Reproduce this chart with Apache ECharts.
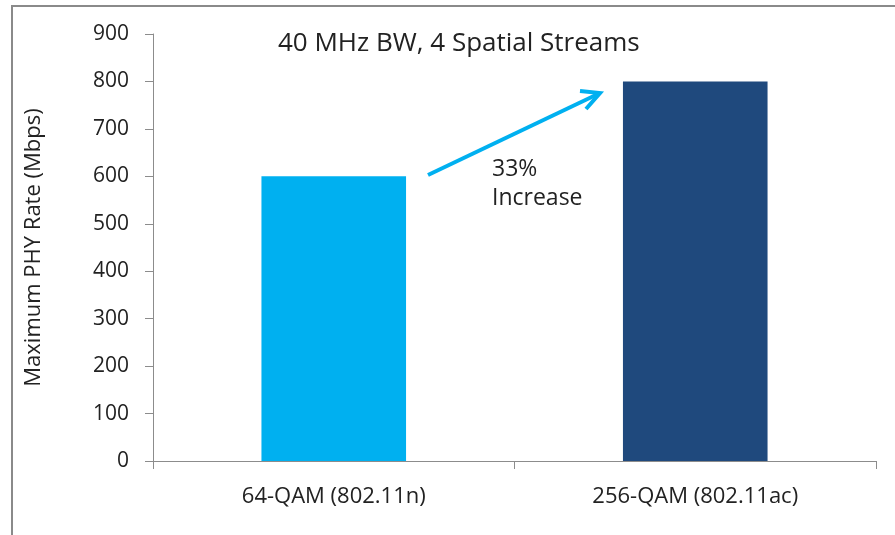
<!DOCTYPE html>
<html><head><meta charset="utf-8">
<script src="https://cdn.jsdelivr.net/npm/echarts@6/dist/echarts.min.js"></script>
<style>html,body{margin:0;padding:0;background:#fff}#c{width:895px;height:535px}</style>
</head><body><div id="c"></div>
<script>
var categories = ['64-QAM (802.11n)', '256-QAM (802.11ac)'];
var values = [600, 800];
var barColors = ['#00B0F0', '#1F497D'];
var yTicks = {min: 0, max: 900, interval: 100};
var titleText = '40 MHz BW, 4 Spatial Streams';
var yName = 'Maximum PHY Rate (Mbps)';
var annotText = '33%\nIncrease';

var FONT = 'Open Sans';
var chart = echarts.init(document.getElementById('c'));
var axisLineStyle = {color: '#8c8c8c', width: 1};
chart.setOption({
  animation: false,
  backgroundColor: '#fff',
  textStyle: {fontFamily: FONT},
  grid: {left: 153, right: 19, top: 34, bottom: 74},
  xAxis: {
    type: 'category', data: categories,
    axisLine: {lineStyle: axisLineStyle},
    axisTick: {show: true, length: 8, lineStyle: axisLineStyle, alignWithLabel: false},
    axisLabel: {color: '#222', fontSize: 22, fontFamily: FONT, margin: 25}
  },
  yAxis: {
    type: 'value', min: yTicks.min, max: yTicks.max, interval: yTicks.interval,
    name: yName, nameLocation: 'middle', nameGap: 108, nameRotate: 90,
    nameTextStyle: {color: '#222', fontSize: 22, fontFamily: FONT},
    axisLine: {show: true, lineStyle: axisLineStyle},
    axisTick: {show: true, length: 8, lineStyle: axisLineStyle},
    axisLabel: {color: '#222', fontSize: 21, fontFamily: FONT, margin: 24},
    splitLine: {show: false}
  },
  series: [{
    type: 'bar', barWidth: '40%',
    data: values.map(function (v, i) { return {value: v, itemStyle: {color: barColors[i]}}; })
  }],
  graphic: [
    {type: 'rect', shape: {x: 12, y: 6, width: 900, height: 560}, style: {fill: 'none', stroke: '#8a8a8a', lineWidth: 2}, silent: true},
    {type: 'text', left: 278, top: 31, style: {text: titleText, fontSize: 26, fontFamily: FONT, fill: '#222'}},
    {type: 'text', left: 492, top: 155, style: {text: annotText, fontSize: 23, lineHeight: 29, fontFamily: FONT, fill: '#222'}},
    {type: 'line', shape: {x1: 428, y1: 175, x2: 598, y2: 94}, style: {stroke: '#00B0F0', lineWidth: 4}},
    {type: 'polyline', shape: {points: [[580, 91], [600, 93], [586, 109]]}, style: {stroke: '#00B0F0', lineWidth: 4, fill: 'none', lineJoin: 'miter'}}
  ]
});
</script></body></html>
